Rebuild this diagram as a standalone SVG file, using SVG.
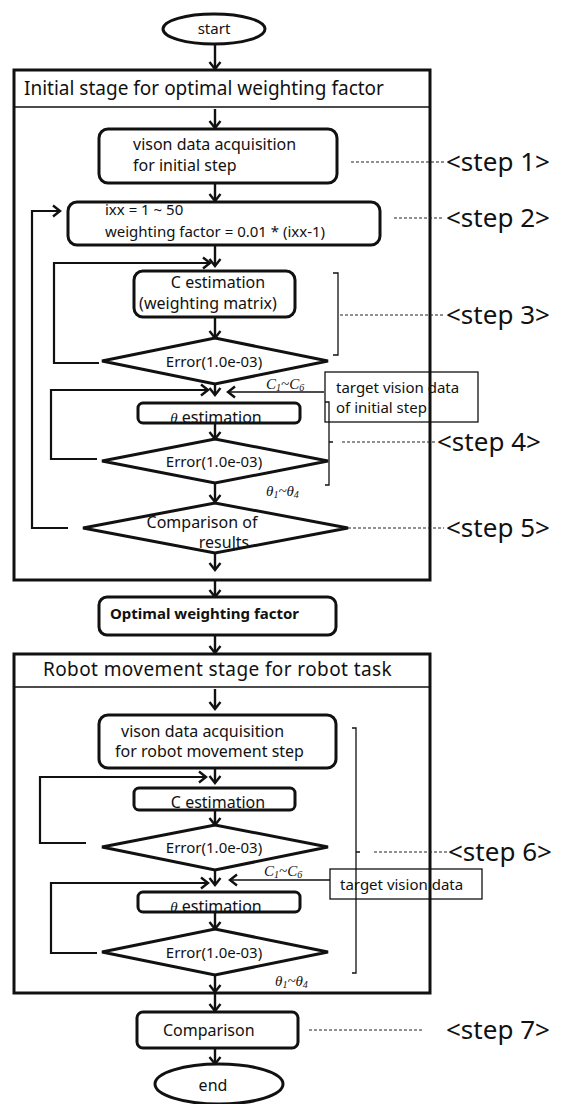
<svg xmlns="http://www.w3.org/2000/svg" width="564" height="1104" viewBox="0 0 564 1104">
  <defs>
    <marker id="v" markerWidth="14" markerHeight="14" refX="10" refY="7" orient="auto" markerUnits="userSpaceOnUse">
      <path d="M3,1.5 L10,7 L3,12.5" fill="none" stroke="#111" stroke-width="2.4"/>
    </marker>
    <style>
      text { font-family: "Noto Sans", "DejaVu Sans", sans-serif; fill: #111; }
      .t15 { font-size: 15px; }
      .t16 { font-size: 16px; }
      .ttl { font-size: 19px; }
      .stp { font-size: 26px; }
      .bold { font-size: 15px; font-weight: bold; }
      .math { font-family: "Liberation Serif", "DejaVu Serif", serif; font-style: italic; font-size: 15px; }
      .node { fill: #fff; stroke: #111; stroke-width: 3; }
      .frame { fill: none; stroke: #111; stroke-width: 3; }
      .thin { fill: none; stroke: #111; stroke-width: 1.3; }
      .flow { fill: none; stroke: #111; stroke-width: 2.4; marker-end: url(#v); }
      .loop { fill: none; stroke: #111; stroke-width: 2.2; }
      .feed { fill: none; stroke: #111; stroke-width: 1.3; marker-end: url(#v); }
      .dash { fill: none; stroke: #222; stroke-width: 1; stroke-dasharray: 3 2; }
    </style>
  </defs>
  <rect width="564" height="1104" fill="#fff"/>

  <!-- stage frames -->
  <g id="stage-initial">
    <rect class="frame" x="14" y="70" width="416" height="510"/>
    <line x1="14" y1="107" x2="430" y2="107" stroke="#111" stroke-width="1.5"/>
    <text class="ttl" x="24" y="95">Initial stage for optimal weighting factor</text>
  </g>
  <g id="stage-robot">
    <rect class="frame" x="14" y="654" width="416" height="339"/>
    <line x1="14" y1="687" x2="430" y2="687" stroke="#111" stroke-width="1.5"/>
    <text class="ttl" x="43" y="676" letter-spacing="0.4">Robot movement stage for robot task</text>
  </g>

  <!-- connectors -->
  <g id="connectors">
    <line class="flow" x1="215" y1="43" x2="215" y2="69"/>
    <line class="flow" x1="215" y1="109" x2="215" y2="128"/>
    <line class="flow" x1="215" y1="183" x2="215" y2="201"/>
    <line class="flow" x1="215" y1="245" x2="215" y2="266"/>
    <line class="flow" x1="215" y1="317" x2="215" y2="338"/>
    <line class="flow" x1="215" y1="384" x2="215" y2="395"/>
    <line class="flow" x1="215" y1="423" x2="215" y2="439"/>
    <line class="flow" x1="215" y1="483" x2="215" y2="502"/>
    <line class="flow" x1="215" y1="553" x2="215" y2="570"/>
    <line class="flow" x1="215" y1="580" x2="215" y2="597"/>
    <line class="flow" x1="215" y1="635" x2="215" y2="653"/>
    <line class="flow" x1="215" y1="689" x2="215" y2="709"/>
    <line class="flow" x1="215" y1="768" x2="215" y2="783"/>
    <line class="flow" x1="215" y1="810" x2="215" y2="825"/>
    <line class="flow" x1="215" y1="870" x2="215" y2="885"/>
    <line class="flow" x1="215" y1="912" x2="215" y2="929"/>
    <line class="flow" x1="215" y1="975" x2="215" y2="992"/>
    <line class="flow" x1="215" y1="993" x2="215" y2="1011"/>
    <line class="flow" x1="215" y1="1048" x2="215" y2="1064"/>

    <!-- iteration loops -->
    <path class="loop" d="M68,528 H32 V211 H60" marker-end="url(#v)"/>
    <path class="loop" d="M99,363 H54 V263 H210" marker-end="url(#v)"/>
    <path class="loop" d="M97,459 H51 V390 H208" marker-end="url(#v)"/>
    <path class="loop" d="M86,843 H40 V777 H206" marker-end="url(#v)"/>
    <path class="loop" d="M97,953 H51 V883 H208" marker-end="url(#v)"/>

    <!-- target data inputs -->
    <line class="feed" x1="324" y1="392" x2="228" y2="392"/>
    <line class="feed" x1="330" y1="880" x2="230" y2="880"/>

    <!-- step brackets -->
    <path class="thin" d="M333,273 H338 V355 H333"/>
    <path class="thin" d="M325,402 H329 V485 H325 M329,442 H333"/>
    <path class="thin" d="M352,728 H356 V973 H352 M356,852 H360"/>

    <!-- step leaders -->
    <line class="dash" x1="351" y1="162" x2="444" y2="162"/>
    <line class="dash" x1="394" y1="218" x2="444" y2="218"/>
    <line class="dash" x1="340" y1="315" x2="444" y2="315"/>
    <line class="dash" x1="342" y1="442" x2="435" y2="442"/>
    <line class="dash" x1="348" y1="528" x2="444" y2="528"/>
    <line class="dash" x1="374" y1="852" x2="447" y2="852"/>
    <line class="dash" x1="309" y1="1030" x2="424" y2="1030"/>
  </g>

  <!-- nodes -->
  <g id="start">
    <ellipse class="node" cx="214" cy="29" rx="51" ry="15"/>
    <text class="t15" x="214" y="34" text-anchor="middle">start</text>
  </g>

  <g id="step1">
    <rect class="node" x="99" y="129" width="238" height="54" rx="9"/>
    <text class="t16" x="133" y="150">vison data acquisition</text>
    <text class="t16" x="133" y="171">for initial step</text>
  </g>

  <g id="step2">
    <rect class="node" x="68" y="202" width="312" height="43" rx="9"/>
    <text class="t15" x="105" y="215">ixx = 1 ~ 50</text>
    <text class="t15" x="105" y="237">weighting factor = 0.01 * (ixx-1)</text>
  </g>

  <g id="c-estimation-1">
    <rect class="node" x="134" y="271" width="161" height="46" rx="9"/>
    <text class="t16" x="218" y="288" text-anchor="middle">C estimation</text>
    <text class="t16" x="208" y="309" text-anchor="middle">(weighting matrix)</text>
  </g>

  <g id="c-error-1">
    <polygon class="node" points="102,361 215,338 328,361 215,384"/>
    <text class="t15" x="214" y="367" text-anchor="middle">Error(1.0e-03)</text>
  </g>

  <g id="target-initial">
    <rect class="thin" x="325" y="372" width="153" height="50"/>
    <text class="t15" x="336" y="393">target vision data</text>
    <text class="t15" x="336" y="413">of initial  step</text>
    <text class="math" x="266" y="389">C<tspan font-size="10" dy="2">1</tspan><tspan dy="-2">~C</tspan><tspan font-size="10" dy="2">6</tspan></text>
  </g>

  <g id="theta-estimation-1">
    <text class="t16" x="216" y="423" text-anchor="middle"><tspan class="math" font-size="16">θ</tspan> estimation</text>
    <rect class="frame" x="138" y="403" width="162" height="20" rx="5"/>
  </g>

  <g id="theta-error-1">
    <polygon class="node" points="102,461 215,439 328,461 215,483"/>
    <text class="t15" x="214" y="467" text-anchor="middle">Error(1.0e-03)</text>
    <text class="math" x="266" y="496">θ<tspan font-size="10" dy="2">1</tspan><tspan dy="-2">~θ</tspan><tspan font-size="10" dy="2">4</tspan></text>
  </g>

  <g id="step5">
    <polygon class="node" points="83,528 215,503 348,528 215,553"/>
    <text class="t16" x="202" y="528" text-anchor="middle">Comparison of</text>
    <text class="t16" x="224" y="548" text-anchor="middle">results</text>
  </g>

  <g id="optimal">
    <rect class="node" x="99" y="597" width="237" height="38" rx="8"/>
    <text class="bold" x="110" y="619">Optimal weighting factor</text>
  </g>

  <g id="step6-acquisition">
    <rect class="node" x="99" y="715" width="237" height="53" rx="9"/>
    <text class="t16" x="121" y="737">vison data acquisition</text>
    <text class="t16" x="115" y="757">for robot movement step</text>
  </g>

  <g id="c-estimation-2">
    <text class="t16" x="218" y="808" text-anchor="middle">C estimation</text>
    <rect class="frame" x="134" y="788" width="161" height="22" rx="5"/>
  </g>

  <g id="c-error-2">
    <polygon class="node" points="102,847 215,825 328,847 215,870"/>
    <text class="t15" x="214" y="853" text-anchor="middle">Error(1.0e-03)</text>
    <text class="math" x="264" y="876">C<tspan font-size="10" dy="2">1</tspan><tspan dy="-2">~C</tspan><tspan font-size="10" dy="2">6</tspan></text>
  </g>

  <g id="target-robot">
    <rect class="thin" x="330" y="869" width="152" height="30"/>
    <text class="t15" x="340" y="890">target vision  data</text>
  </g>

  <g id="theta-estimation-2">
    <text class="t16" x="216" y="912" text-anchor="middle"><tspan class="math" font-size="16">θ</tspan> estimation</text>
    <rect class="frame" x="138" y="892" width="162" height="20" rx="5"/>
  </g>

  <g id="theta-error-2">
    <polygon class="node" points="102,952 215,929 328,952 215,975"/>
    <text class="t15" x="214" y="958" text-anchor="middle">Error(1.0e-03)</text>
    <text class="math" x="275" y="986">θ<tspan font-size="10" dy="2">1</tspan><tspan dy="-2">~θ</tspan><tspan font-size="10" dy="2">4</tspan></text>
  </g>

  <g id="step7">
    <rect class="node" x="137" y="1012" width="161" height="36" rx="6"/>
    <text class="t16" x="163" y="1036">Comparison</text>
  </g>

  <g id="end">
    <ellipse class="node" cx="219" cy="1084" rx="64" ry="20"/>
    <text class="t16" x="213" y="1091" text-anchor="middle">end</text>
  </g>

  <!-- step labels -->
  <g id="step-labels">
    <text class="stp" x="446" y="171">&lt;step 1&gt;</text>
    <text class="stp" x="446" y="227">&lt;step 2&gt;</text>
    <text class="stp" x="446" y="324">&lt;step 3&gt;</text>
    <text class="stp" x="437" y="451">&lt;step 4&gt;</text>
    <text class="stp" x="446" y="537">&lt;step 5&gt;</text>
    <text class="stp" x="448" y="861">&lt;step 6&gt;</text>
    <text class="stp" x="446" y="1039">&lt;step 7&gt;</text>
  </g>
</svg>
